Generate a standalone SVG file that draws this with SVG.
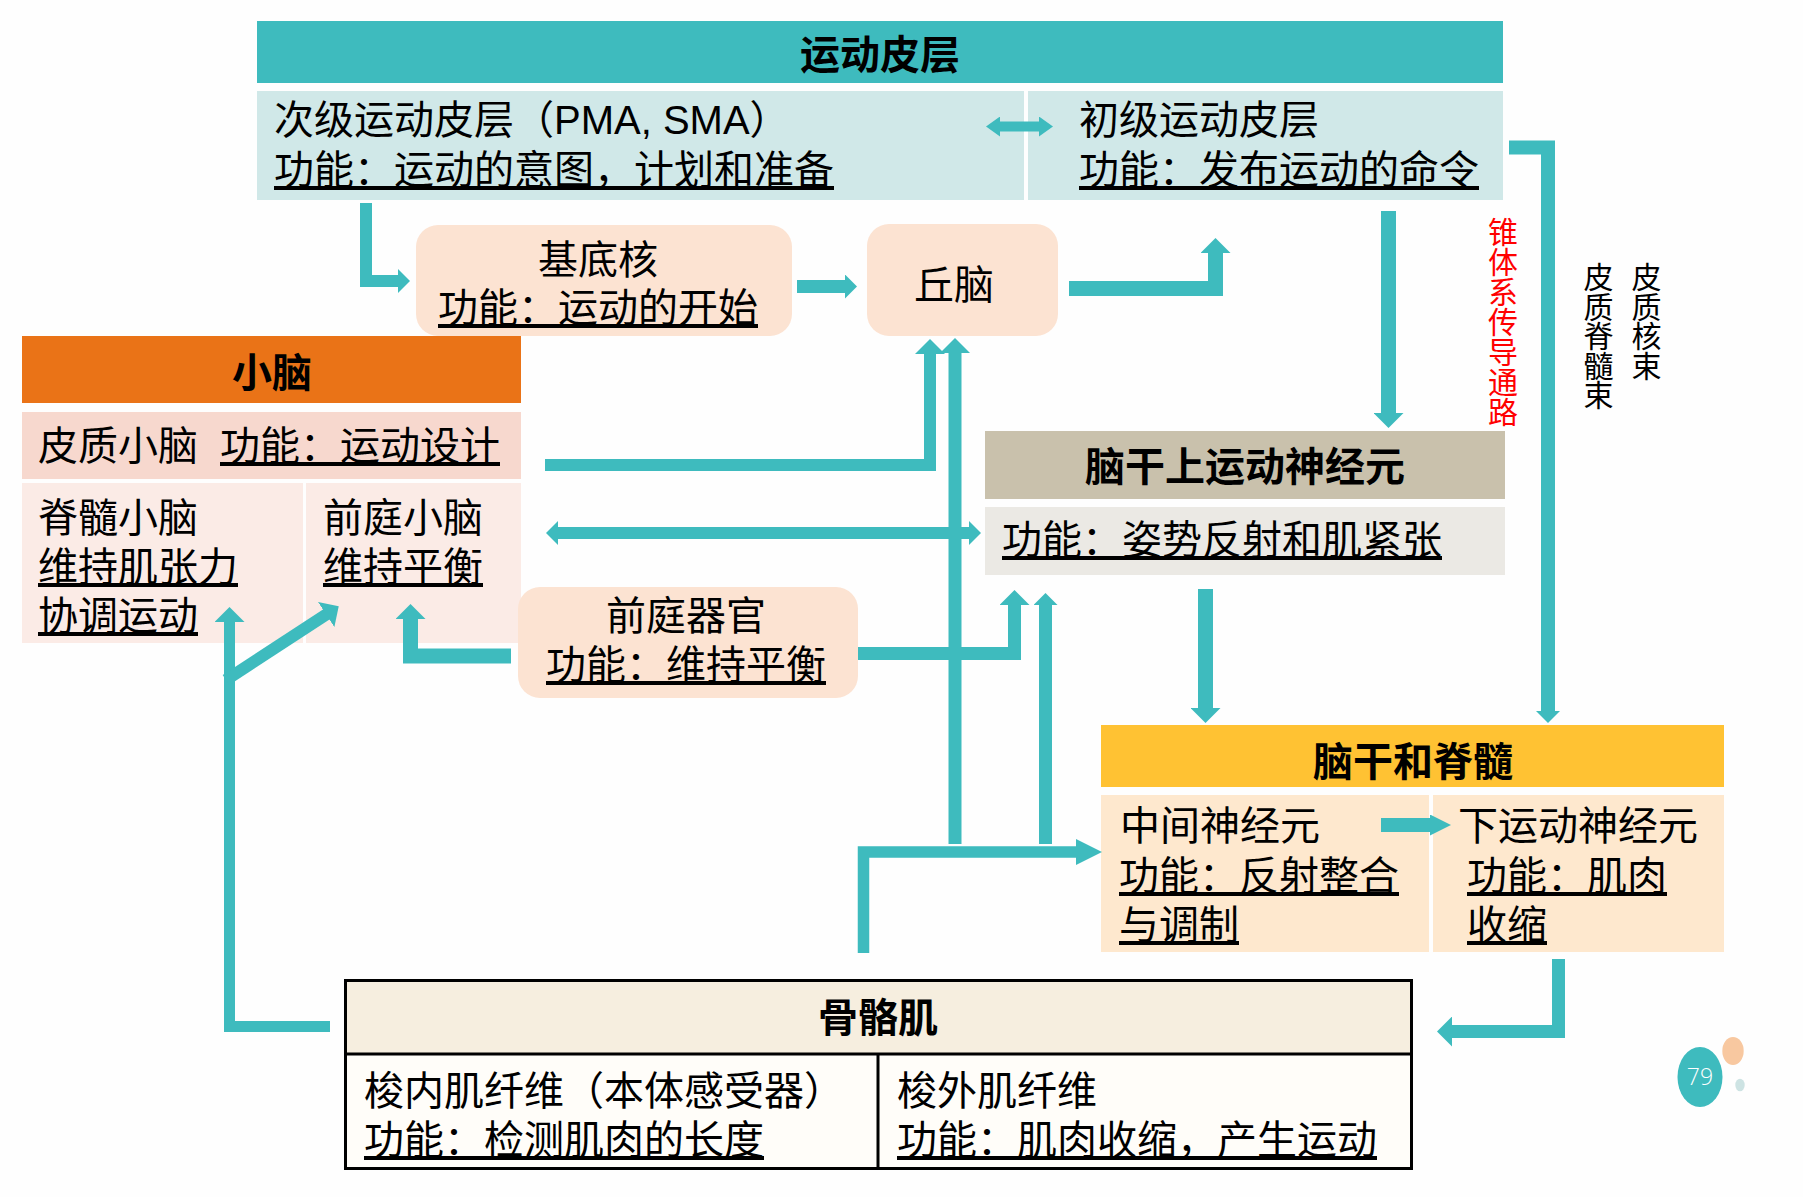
<svg xmlns="http://www.w3.org/2000/svg" width="1803" height="1197" viewBox="0 0 1803 1197">
  <defs>
    <style>
      .t { font-family: "Liberation Sans", "Noto Sans CJK SC", sans-serif; font-size: 40px; fill: #000; }
      .b { font-weight: bold; }
      .u { text-decoration: underline; }
      .c { text-anchor: middle; }
      .v { font-size: 30px; text-anchor: middle; }
      .red { fill: #ff0000; }
      .wire { fill: none; stroke: #3ebbbe; stroke-linejoin: miter; stroke-linecap: butt; }
      .head { fill: #3ebbbe; }
    </style>
    <!-- arrowheads: path ends at the head base, head extends forward -->
    <marker id="ah-s" viewBox="0 0 12 24" refX="1" refY="12" markerWidth="12" markerHeight="24" markerUnits="userSpaceOnUse" orient="auto-start-reverse">
      <path class="head" d="M0,0 L12,12 L0,24 Z"/>
    </marker>
    <marker id="ah-m" viewBox="0 0 15 30" refX="1" refY="15" markerWidth="15" markerHeight="30" markerUnits="userSpaceOnUse" orient="auto-start-reverse">
      <path class="head" d="M0,0 L15,15 L0,30 Z"/>
    </marker>
    <marker id="ah-t" viewBox="0 0 14 20" refX="1" refY="10" markerWidth="14" markerHeight="20" markerUnits="userSpaceOnUse" orient="auto-start-reverse">
      <path class="head" d="M0,0 L14,10 L0,20 Z"/>
    </marker>
    <marker id="ah-n" viewBox="0 0 21 21" refX="1" refY="10.5" markerWidth="21" markerHeight="21" markerUnits="userSpaceOnUse" orient="auto-start-reverse">
      <path class="head" d="M0,0 L21,10.5 L0,21 Z"/>
    </marker>
    <marker id="ah-l" viewBox="0 0 26 26" refX="1" refY="13" markerWidth="26" markerHeight="26" markerUnits="userSpaceOnUse" orient="auto-start-reverse">
      <path class="head" d="M0,0 L26,13 L0,26 Z"/>
    </marker>
  </defs>

  <rect x="0" y="0" width="1803" height="1197" fill="#fefefe"/>

  <!-- motor cortex -->
  <g id="motor-cortex">
    <rect x="257" y="21" width="1246" height="62" fill="#3ebbbe"/>
    <text class="t b c" x="880" y="69">运动皮层</text>
  </g>
  <g id="secondary-motor-cortex">
    <rect x="257" y="91" width="767" height="109" fill="#d0e8e8"/>
    <text class="t" x="274" y="134">次级运动皮层（PMA, SMA）</text>
    <text class="t u" x="274" y="184">功能：运动的意图，计划和准备</text>
  </g>
  <g id="primary-motor-cortex">
    <rect x="1028" y="91" width="475" height="109" fill="#d0e8e8"/>
    <text class="t" x="1079" y="134">初级运动皮层</text>
    <text class="t u" x="1079" y="184">功能：发布运动的命令</text>
  </g>

  <!-- basal ganglia and thalamus -->
  <g id="basal-ganglia">
    <rect x="416" y="225" width="376" height="111" rx="22" fill="#fce3d2"/>
    <text class="t c" x="598" y="274">基底核</text>
    <text class="t c u" x="598" y="322">功能：运动的开始</text>
  </g>
  <g id="thalamus">
    <rect x="867" y="224" width="191" height="112" rx="22" fill="#fce3d2"/>
    <text class="t c" x="954" y="299">丘脑</text>
  </g>

  <!-- cerebellum -->
  <g id="cerebellum">
    <rect x="22" y="336" width="499" height="67" fill="#ea7317"/>
    <text class="t b c" x="272" y="387">小脑</text>
  </g>
  <g id="cerebrocerebellum">
    <rect x="22" y="412" width="499" height="67" fill="#f7d8ce"/>
    <text class="t" x="38" y="460">皮质小脑</text>
    <text class="t u" x="220" y="460">功能：运动设计</text>
  </g>
  <g id="spinocerebellum">
    <rect x="22" y="483" width="281" height="160" fill="#fbebe6"/>
    <text class="t" x="38" y="532">脊髓小脑</text>
    <text class="t u" x="38" y="581">维持肌张力</text>
    <text class="t u" x="38" y="630">协调运动</text>
  </g>
  <g id="vestibulocerebellum">
    <rect x="306" y="483" width="215" height="160" fill="#fbebe6"/>
    <text class="t" x="323" y="532">前庭小脑</text>
    <text class="t u" x="323" y="581">维持平衡</text>
  </g>

  <!-- vestibular organ -->
  <g id="vestibular-organ">
    <rect x="518" y="587" width="340" height="111" rx="22" fill="#fce3d2"/>
    <text class="t c" x="686" y="630">前庭器官</text>
    <text class="t c u" x="686" y="679">功能：维持平衡</text>
  </g>

  <!-- brainstem upper motor neurons -->
  <g id="brainstem-umn">
    <rect x="985" y="431" width="520" height="68" fill="#c9c1ac"/>
    <text class="t b c" x="1245" y="481">脑干上运动神经元</text>
    <rect x="985" y="507" width="520" height="68" fill="#ebe9e4"/>
    <text class="t u" x="1002" y="554">功能：姿势反射和肌紧张</text>
  </g>

  <!-- pathway labels -->
  <g id="pyramidal-label">
    <text class="t v red">
      <tspan x="1503" y="243">锥</tspan><tspan x="1503" y="273">体</tspan><tspan x="1503" y="303">系</tspan><tspan x="1503" y="333">传</tspan><tspan x="1503" y="363">导</tspan><tspan x="1503" y="393">通</tspan><tspan x="1503" y="423">路</tspan>
    </text>
  </g>
  <g id="tract-labels">
    <text class="t v">
      <tspan x="1598.5" y="288">皮</tspan><tspan x="1598.5" y="317.5">质</tspan><tspan x="1598.5" y="347">脊</tspan><tspan x="1598.5" y="376.5">髓</tspan><tspan x="1598.5" y="406">束</tspan>
    </text>
    <text class="t v">
      <tspan x="1646.5" y="288">皮</tspan><tspan x="1646.5" y="317.5">质</tspan><tspan x="1646.5" y="347">核</tspan><tspan x="1646.5" y="376.5">束</tspan>
    </text>
  </g>

  <!-- brainstem and spinal cord -->
  <g id="brainstem-spinal-cord">
    <rect x="1101" y="725" width="623" height="62" fill="#ffc233"/>
    <text class="t b c" x="1413" y="776">脑干和脊髓</text>
  </g>
  <g id="interneurons">
    <rect x="1101" y="795" width="328" height="157" fill="#fee8ce"/>
    <text class="t" x="1120" y="840">中间神经元</text>
    <text class="t u" x="1119" y="890">功能：反射整合</text>
    <text class="t u" x="1119" y="939">与调制</text>
  </g>
  <g id="lower-motor-neurons">
    <rect x="1433" y="795" width="291" height="157" fill="#fee8ce"/>
    <text class="t" x="1458" y="840">下运动神经元</text>
    <text class="t u" x="1467" y="890">功能：肌肉</text>
    <text class="t u" x="1467" y="939">收缩</text>
  </g>

  <!-- skeletal muscle -->
  <g id="skeletal-muscle">
    <rect x="345.5" y="980.5" width="1066" height="73.5" fill="#f6eedf"/>
    <rect x="345.5" y="1054" width="1066" height="114.5" fill="#fffdf9"/>
    <rect x="345.5" y="980.5" width="1066" height="188" fill="none" stroke="#000" stroke-width="3"/>
    <line x1="345.5" y1="1054" x2="1411.5" y2="1054" stroke="#000" stroke-width="3"/>
    <line x1="878" y1="1054" x2="878" y2="1168.5" stroke="#000" stroke-width="3"/>
    <text class="t b c" x="878" y="1032">骨骼肌</text>
    <text class="t" x="364" y="1105">梭内肌纤维（本体感受器）</text>
    <text class="t u" x="364" y="1154">功能：检测肌肉的长度</text>
    <text class="t" x="897" y="1105">梭外肌纤维</text>
    <text class="t u" x="897" y="1154">功能：肌肉收缩，产生运动</text>
  </g>

  <!-- page badge -->
  <g id="page-badge">
    <ellipse cx="1700" cy="1077" rx="22.5" ry="30" fill="#3ebbbe"/>
    <ellipse cx="1733" cy="1051" rx="10.7" ry="14" fill="#f8c8a0"/>
    <ellipse cx="1740" cy="1085" rx="4.7" ry="6.3" fill="#cde3e3"/>
    <text x="1700" y="1085" text-anchor="middle" font-family="Open Sans, sans-serif" font-weight="300" font-size="23" fill="#ffffff">79</text>
  </g>

  <!-- connectors -->
  <g id="connectors">
    <path class="wire" stroke-width="10" d="M999,126.5 H1040" marker-start="url(#ah-t)" marker-end="url(#ah-t)"/>
    <path class="wire" stroke-width="12" d="M366,203 V281 H399" marker-end="url(#ah-s)"/>
    <path class="wire" stroke-width="13" d="M797,286.5 H846" marker-end="url(#ah-s)"/>
    <path class="wire" stroke-width="15" d="M1069,288.5 H1215.5 V252" marker-end="url(#ah-m)"/>
    <path class="wire" stroke-width="15" d="M1388.5,211 V414" marker-end="url(#ah-m)"/>
    <path class="wire" stroke-width="14" d="M1509,147.5 H1548 V712" marker-end="url(#ah-s)"/>
    <path class="wire" stroke-width="12" d="M545,465 H930 V353" marker-end="url(#ah-m)"/>
    <path class="wire" stroke-width="13" d="M955,844 V352" marker-end="url(#ah-m)"/>
    <path class="wire" stroke-width="12" d="M557,533 H970" marker-start="url(#ah-s)" marker-end="url(#ah-s)"/>
    <path class="wire" stroke-width="13" d="M858,653.5 H1014.5 V604" marker-end="url(#ah-m)"/>
    <path class="wire" stroke-width="13" d="M1045.5,844 V604" marker-end="url(#ah-s)"/>
    <path class="wire" stroke-width="11.5" d="M863.5,953 V852 H1077" marker-end="url(#ah-l)"/>
    <path class="wire" stroke-width="15" d="M1205.5,589 V709" marker-end="url(#ah-m)"/>
    <path class="wire" stroke-width="14" d="M1381,825 H1431" marker-end="url(#ah-n)"/>
    <path class="wire" stroke-width="13" d="M1558.5,959 V1031.5 H1451" marker-end="url(#ah-m)"/>
    <path class="wire" stroke-width="11" d="M330,1026.5 H229.5 V621" marker-end="url(#ah-m)"/>
    <path class="wire" stroke-width="12" d="M226,680 L327,614" marker-end="url(#ah-m)"/>
    <path class="wire" stroke-width="15" d="M511,656 H410.5 V618" marker-end="url(#ah-m)"/>
  </g>
</svg>
